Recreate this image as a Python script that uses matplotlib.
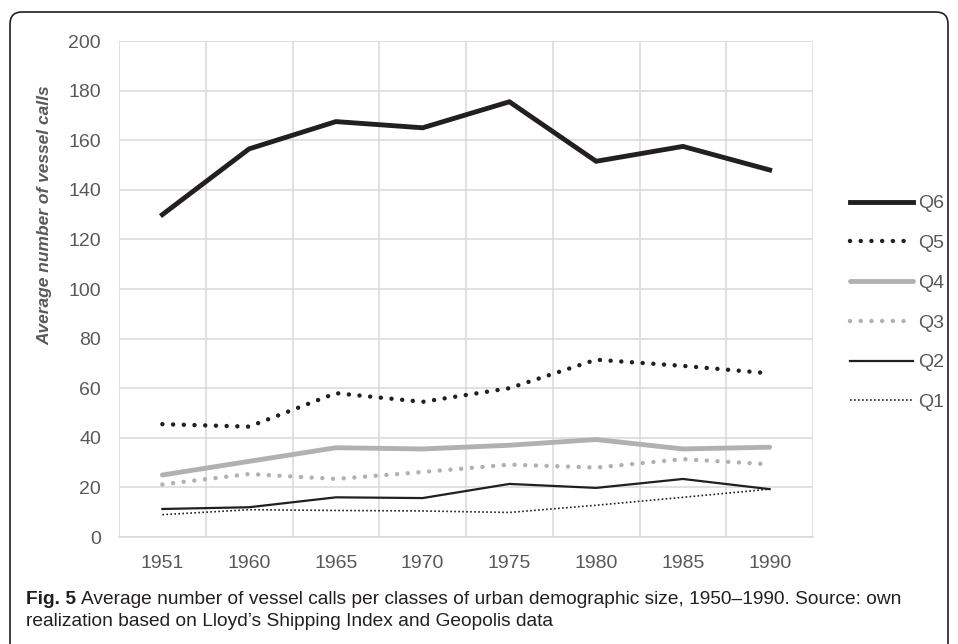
import matplotlib.pyplot as plt
import numpy as np
from matplotlib.patches import FancyBboxPatch
from matplotlib.transforms import IdentityTransform

years = ["1951", "1960", "1965", "1970", "1975", "1980", "1985", "1990"]
q6 = [130, 156.5, 167.5, 165, 175.5, 151.5, 157.5, 148]
q5 = [45.5, 44.5, 58, 54.5, 60, 71.5, 69, 66]
q4 = [25, 30.5, 36, 35.5, 37, 39.3, 35.5, 36.2]
q3 = [21.2, 25.4, 23.4, 26.2, 29.2, 28, 31.4, 29.3]
q2 = [11.3, 12, 16, 15.7, 21.4, 19.8, 23.4, 19.3]
q1 = [9, 11, 10.7, 10.5, 9.9, 12.8, 16, 19.3]

dark = '#231f20'
grey = '#b1b1b4'
txt = '#595959'

plt.rcParams['font.family'] = ['Liberation Sans', 'DejaVu Sans']

fig = plt.figure(figsize=(9.58, 6.44), dpi=100)
ax = fig.add_axes([119 / 958, 1 - 537 / 644, (813 - 119) / 958, (537 - 41) / 644])

x = np.arange(len(years))
dots = (0, (0.01, 2.4))
ax.plot(x, q6, color=dark, lw=3.5, solid_joinstyle='miter', label='Q6')
ax.plot(x, q5, color=dark, lw=3.2, linestyle=dots, dash_capstyle='round', label='Q5')
ax.plot(x, q4, color=grey, lw=3.5, solid_capstyle='round', label='Q4')
ax.plot(x, q3, color=grey, lw=3.2, linestyle=dots, dash_capstyle='round', label='Q3')
ax.plot(x, q2, color=dark, lw=1.6, label='Q2')
ax.plot(x, q1, color=dark, lw=1.2, linestyle=(0, (1, 1.4)), label='Q1')

ax.set_xlim(-0.5, len(years) - 0.5)
ax.set_ylim(0, 200)
ax.set_yticks(np.arange(0, 201, 20))
ax.set_xticks(x, years)
ax.set_xticks(np.arange(-0.5, len(years), 1), minor=True)
ax.grid(axis='y', color='#d9d9d9', lw=1.1)
ax.grid(axis='x', which='minor', color='#d9d9d9', lw=1.1)
ax.set_axisbelow(True)
for s in ax.spines.values():
    s.set_visible(False)
ax.spines['bottom'].set_visible(True)
ax.spines['bottom'].set_color('#d9d9d9')
ax.spines['bottom'].set_linewidth(1.1)
ax.tick_params(axis='both', which='both', length=0, labelsize=14, labelcolor=txt)
ax.tick_params(axis='y', pad=13)
ax.tick_params(axis='x', pad=13)

fig.text(45 / 958, 1 - 215 / 644, 'Average number of vessel calls', rotation=90,
         ha='center', va='center', fontsize=12.5, fontweight='bold', fontstyle='italic',
         color=txt)

leg = ax.legend(loc='center left', bbox_to_anchor=(850 / 958, 1 - 303 / 644),
                bbox_transform=fig.transFigure, frameon=False, fontsize=14,
                handlelength=3.25, handletextpad=0.26, labelspacing=1.14,
                borderpad=0, borderaxespad=0)
for t in leg.get_texts():
    t.set_color(txt)

# rounded frame around the chart
frame = FancyBboxPatch((10, -30), 938, 632 + 30, boxstyle='round,pad=0,rounding_size=12',
                       transform=IdentityTransform(), fill=False, ec=dark, lw=1.2)
fig.patches.append(frame)

cap = ['Liberation Sans', 'DejaVu Sans']
t1 = fig.text(26 / 958, 1 - 600 / 644, 'Fig. 5', fontsize=13.8, fontweight='bold',
              family=cap, va='center', color='#231f20')
fig.canvas.draw()
bb = t1.get_window_extent()
fig.text(bb.x1 / 958 + 5 / 958, 1 - 600 / 644,
         'Average number of vessel calls per classes of urban demographic size, 1950\u20131990. Source: own',
         fontsize=13.8, family=cap, va='center', color='#231f20')
fig.text(26 / 958, 1 - 621 / 644, 'realization based on Lloyd\u2019s Shipping Index and Geopolis data',
         fontsize=13.8, family=cap, va='center', color='#231f20')

fig.savefig('out.png', dpi=100)
